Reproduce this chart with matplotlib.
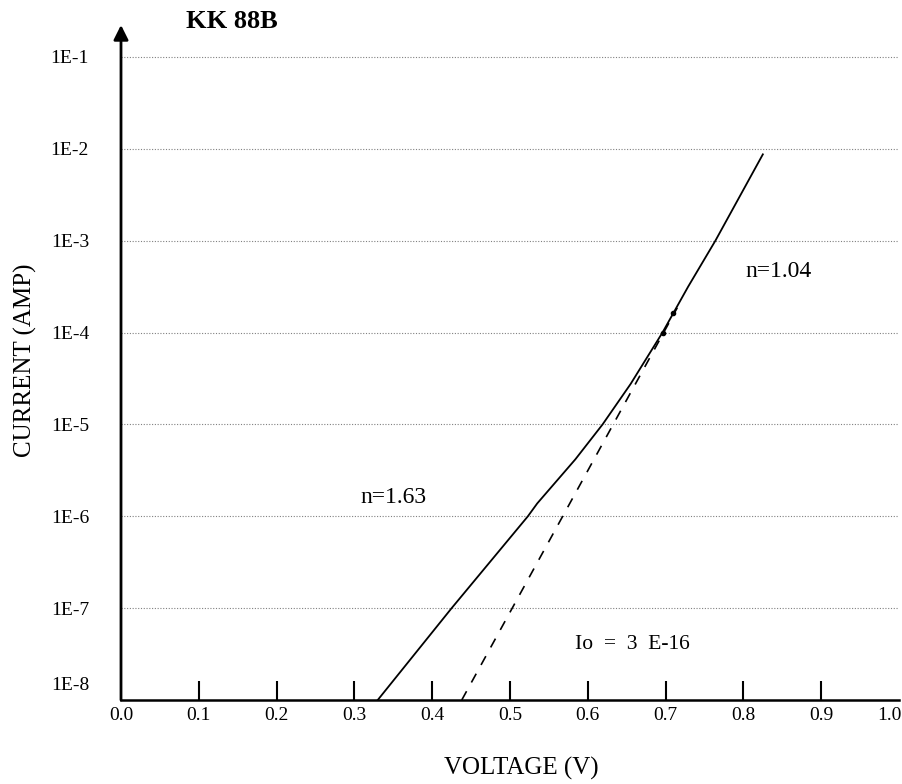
import matplotlib
matplotlib.use("Agg")
import matplotlib.pyplot as plt
import matplotlib.transforms as mtransforms
import matplotlib.ticker as mticker

plt.rcParams['font.family'] = ['Liberation Serif', 'DejaVu Serif']

# Measured I-V curve (solid)
volt_meas = [0.330, 0.425, 0.523, 0.535, 0.584, 0.619, 0.655, 0.696, 0.729, 0.764, 0.825]
curr_meas = [1e-8, 1e-7, 1e-6, 10**-5.86, 10**-5.38, 1e-5, 10**-4.56, 1e-4, 10**-3.50, 1e-3, 10**-2.06]

# Extrapolated ideal line (dashed)
volt_fit = [0.438, 0.715]
curr_fit = [1e-8, 10**-3.73]

# Marked points
volt_pts = [0.697, 0.710]
curr_pts = [1e-4, 10**-3.79]

x_ticks = [0.0, 0.1, 0.2, 0.3, 0.4, 0.5, 0.6, 0.7, 0.8, 0.9, 1.0]
x_labels = ["0.0", "0.1", "0.2", "0.3", "0.4", "0.5", "0.6", "0.7", "0.8", "0.9", "1.0"]
y_ticks = [1e-8, 1e-7, 1e-6, 1e-5, 1e-4, 1e-3, 1e-2, 1e-1]
y_labels = ["1E-8", "1E-7", "1E-6", "1E-5", "1E-4", "1E-3", "1E-2", "1E-1"]

W, H = 903, 784
fig = plt.figure(figsize=(W / 100, H / 100), dpi=100)
left, right, bottom, top = 121, 899, 700, 25
ax = fig.add_axes([left / W, 1 - bottom / H, (right - left) / W, (bottom - top) / H])

ytop = 10 ** -0.652
ax.set_yscale('log')
ax.set_xlim(0, 1.0)
ax.set_ylim(1e-8, ytop)

# grid lines (dotted)
for yv in y_ticks[1:]:
    ax.axhline(yv, color='#808080', lw=0.8, ls=(0, (1, 1.5)), zorder=1)

ax.plot(volt_meas, curr_meas, color='black', lw=1.3, zorder=3)
ax.plot(volt_fit, curr_fit, color='black', lw=1.2, ls=(0, (6, 6)), zorder=3)
ax.plot(volt_pts, curr_pts, 'o', color='black', ms=3, zorder=4)

for s in ['top', 'right', 'left']:
    ax.spines[s].set_visible(False)
ax.spines['bottom'].set_linewidth(1.8)

# y-axis with arrow
ax.annotate('', xy=(0, ytop), xytext=(0, 1e-8), xycoords='data',
            arrowprops=dict(arrowstyle='-|>', lw=2, color='black', mutation_scale=22,
                            shrinkA=0, shrinkB=0), annotation_clip=False, zorder=5)

ax.set_xticks(x_ticks)
ax.set_xticklabels(x_labels, fontsize=14)
ax.tick_params(axis='x', direction='in', length=14, width=1.5, pad=5)
xt = ax.xaxis.get_major_ticks()
xt[0].tick1line.set_visible(False)
xt[-1].tick1line.set_visible(False)
xt[-1].label1.set_horizontalalignment('right')
xt[-1].label1.set_transform(xt[-1].label1.get_transform() +
                            mtransforms.ScaledTranslation(3 / 100, 0, fig.dpi_scale_trans))

ax.set_yticks(y_ticks)
ax.set_yticklabels(y_labels, fontsize=14)
ax.yaxis.set_minor_locator(mticker.NullLocator())
ax.tick_params(axis='y', length=0, pad=23)
lab8 = ax.get_yticklabels()[0]
lab8.set_transform(lab8.get_transform() + mtransforms.ScaledTranslation(0, 17 / 100, fig.dpi_scale_trans))

fig.text(25 / W, 1 - 360 / H, "CURRENT (AMP)", rotation=90, fontsize=18,
         ha='center', va='center')
fig.text(521 / W, 1 - 768 / H, "VOLTAGE (V)", fontsize=18, ha='center', va='center')
fig.text(232 / W, 1 - 22 / H, "KK 88B", fontsize=19, fontweight='bold', ha='center', va='center')

ax.text(0.845, 10 ** -3.33, "n=1.04", fontsize=17, ha='center', va='center')
ax.text(0.35, 10 ** -5.8, "n=1.63", fontsize=17, ha='center', va='center')
ax.text(0.657, 10 ** -7.4, "Io  =  3  E-16", fontsize=15.5, ha='center', va='center')

fig.savefig('out.png', dpi=100)
